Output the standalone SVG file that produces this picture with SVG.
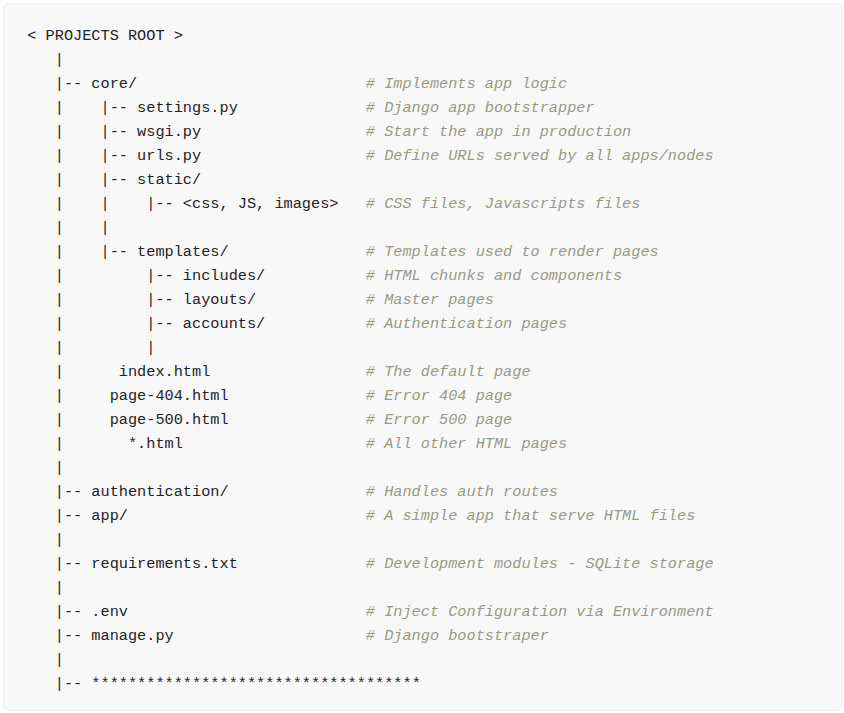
<svg xmlns="http://www.w3.org/2000/svg" width="844" height="713" viewBox="0 0 844 713" xml:space="preserve">
<style>
.t{font-family:"Liberation Mono","DejaVu Sans Mono",monospace;font-size:15.25px;fill:#1f2328;white-space:pre}
.c{font-family:"Liberation Mono","DejaVu Sans Mono",monospace;font-size:15.25px;font-style:italic;fill:#999988;white-space:pre}
</style>
<rect x="0" y="0" width="844" height="713" fill="#ffffff"/>
<rect x="3.5" y="3.5" width="838" height="707" rx="5" fill="#f8f8f8" stroke="#ececec" stroke-width="1"/>
<g id="tree">
<text class="t" x="27.3" y="39.5">&lt; PROJECTS ROOT &gt;</text>
<text class="t" x="54.75" y="63.5">|</text>
<text class="t" x="54.75" y="87.5">|-- core/</text>
<text class="t" x="54.75" y="111.5">|    |-- settings.py</text>
<text class="t" x="54.75" y="135.5">|    |-- wsgi.py</text>
<text class="t" x="54.75" y="159.5">|    |-- urls.py</text>
<text class="t" x="54.75" y="183.5">|    |-- static/</text>
<text class="t" x="54.75" y="207.5">|    |    |-- &lt;css, JS, images&gt;</text>
<text class="t" x="54.75" y="231.5">|    |</text>
<text class="t" x="54.75" y="255.5">|    |-- templates/</text>
<text class="t" x="54.75" y="279.5">|         |-- includes/</text>
<text class="t" x="54.75" y="303.5">|         |-- layouts/</text>
<text class="t" x="54.75" y="327.5">|         |-- accounts/</text>
<text class="t" x="54.75" y="351.5">|         |</text>
<text class="t" x="54.75" y="375.5">|      index.html</text>
<text class="t" x="54.75" y="399.5">|     page-404.html</text>
<text class="t" x="54.75" y="423.5">|     page-500.html</text>
<text class="t" x="54.75" y="447.5">|       *.html</text>
<text class="t" x="54.75" y="471.5">|</text>
<text class="t" x="54.75" y="495.5">|-- authentication/</text>
<text class="t" x="54.75" y="519.5">|-- app/</text>
<text class="t" x="54.75" y="543.5">|</text>
<text class="t" x="54.75" y="567.5">|-- requirements.txt</text>
<text class="t" x="54.75" y="591.5">|</text>
<text class="t" x="54.75" y="615.5">|-- .env</text>
<text class="t" x="54.75" y="639.5">|-- manage.py</text>
<text class="t" x="54.75" y="663.5">|</text>
<text class="t" x="54.75" y="687.5">|-- ************************************</text>
</g>
<g id="comments">
<text class="c" x="365.85" y="87.5"># Implements app logic</text>
<text class="c" x="365.85" y="111.5"># Django app bootstrapper</text>
<text class="c" x="365.85" y="135.5"># Start the app in production</text>
<text class="c" x="365.85" y="159.5"># Define URLs served by all apps/nodes</text>
<text class="c" x="365.85" y="207.5"># CSS files, Javascripts files</text>
<text class="c" x="365.85" y="255.5"># Templates used to render pages</text>
<text class="c" x="365.85" y="279.5"># HTML chunks and components</text>
<text class="c" x="365.85" y="303.5"># Master pages</text>
<text class="c" x="365.85" y="327.5"># Authentication pages</text>
<text class="c" x="365.85" y="375.5"># The default page</text>
<text class="c" x="365.85" y="399.5"># Error 404 page</text>
<text class="c" x="365.85" y="423.5"># Error 500 page</text>
<text class="c" x="365.85" y="447.5"># All other HTML pages</text>
<text class="c" x="365.85" y="495.5"># Handles auth routes</text>
<text class="c" x="365.85" y="519.5"># A simple app that serve HTML files</text>
<text class="c" x="365.85" y="567.5"># Development modules - SQLite storage</text>
<text class="c" x="365.85" y="615.5"># Inject Configuration via Environment</text>
<text class="c" x="365.85" y="639.5"># Django bootstraper</text>
</g>
</svg>
